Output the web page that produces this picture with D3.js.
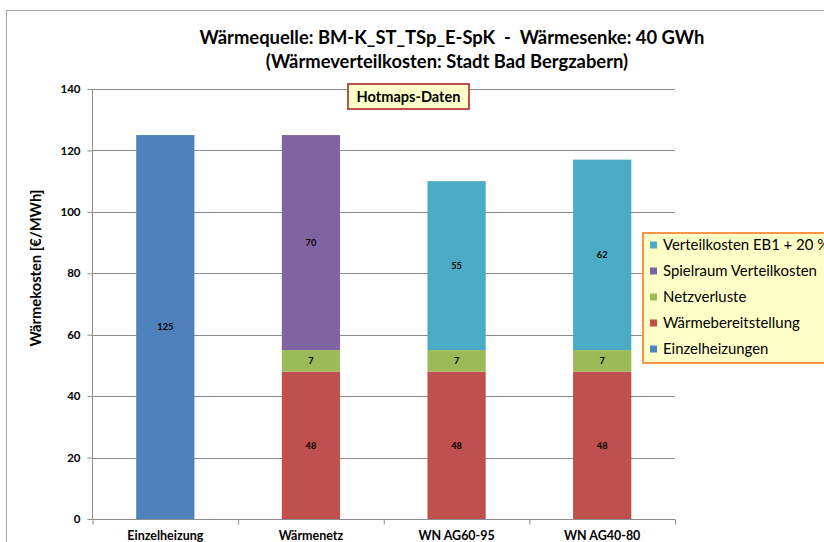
<!DOCTYPE html>
<html><head><meta charset="utf-8">
<script src="https://cdn.jsdelivr.net/npm/d3@7"></script>
<style>body{margin:0;background:#fff}svg{display:block}</style>
</head><body>
<svg id="chart" width="824" height="542"></svg>
<script>
const categories = ["Einzelheizung", "Wärmenetz", "WN AG60-95", "WN AG40-80"];
const seriesNames = ["Einzelheizungen", "Wärmebereitstellung", "Netzverluste", "Spielraum Verteilkosten", "Verteilkosten EB1 + 20 %"];
const einzelheizungen = [125, 0, 0, 0];
const waermebereitstellung = [0, 48, 48, 48];
const netzverluste = [0, 7, 7, 7];
const spielraum = [0, 70, 0, 0];
const verteilkosten = [0, 0, 55, 62];
const yTicks = [0, 20, 40, 60, 80, 100, 120, 140];
const colors = ["#4F81BD", "#C0504D", "#9BBB59", "#8064A2", "#4BACC6"];

(function () {
const series = [einzelheizungen, waermebereitstellung, netzverluste, spielraum, verteilkosten];
const svg = d3.select("#chart");
const font = "Lato, 'Open Sans', sans-serif";

// size a font so that a sample string reaches a target width
function fitSize(sample, target, bold) {
  const t = svg.append("text").attr("font-family", font).attr("font-size", 20)
    .attr("font-weight", bold ? "bold" : "normal").attr("xml:space", "preserve").text(sample);
  const w = t.node().getComputedTextLength();
  t.remove();
  return 20 * target / w;
}
const fsTitle = fitSize("Wärmequelle: BM-K_ST_TSp_E-SpK  -  Wärmesenke: 40 GWh", 505, true);
const fsYLabel = fitSize("Wärmekosten [€/MWh]", 157, true);
const fsLegend = fitSize("Spielraum Verteilkosten", 154, false);
const fsHot = fitSize("Hotmaps-Daten", 104, true);
const fsX = fitSize("Einzelheizung", 76, true);
const fsTick = fitSize("140", 20, true);
const fsData = fitSize("125", 16, true);

// outer frame
svg.append("rect").attr("x", 6.5).attr("y", 10.5).attr("width", 830).attr("height", 540)
  .attr("fill", "#fff").attr("stroke", "#A6A6A6").attr("stroke-width", 1);

const pL = 92.5, pR = 675, pT = 89, pB = 519;
const x = d3.scaleBand().domain(categories).range([pL, pR]).paddingInner(0.6).paddingOuter(0.3);
const y = d3.scaleLinear().domain([0, 140]).range([pB, pT]);

// gridlines
svg.append("g").selectAll("line").data(yTicks.filter(d => d > 0)).join("line")
  .attr("x1", pL).attr("x2", pR).attr("y1", d => Math.round(y(d)) + 0.5).attr("y2", d => Math.round(y(d)) + 0.5)
  .attr("stroke", "#8C8C8C").attr("stroke-width", 1);

// stacked bars
const table = categories.map((c, i) => {
  const o = {cat: c};
  seriesNames.forEach((s, j) => o[s] = series[j][i]);
  return o;
});
const stack = d3.stack().keys(seriesNames)(table);
const g = svg.append("g");
stack.forEach((layer, j) => {
  layer.forEach((d, i) => {
    const v = d[1] - d[0];
    if (v <= 0) return;
    g.append("rect").attr("x", x(categories[i])).attr("width", x.bandwidth())
      .attr("y", y(d[1])).attr("height", y(d[0]) - y(d[1])).attr("fill", colors[j]);
    g.append("text").attr("x", x(categories[i]) + x.bandwidth() / 2).attr("y", (y(d[0]) + y(d[1])) / 2)
      .attr("dy", "0.35em").attr("text-anchor", "middle").attr("font-family", font)
      .attr("font-weight", "bold").attr("font-size", fsData).attr("fill", "#000").text(v);
  });
});

// y axis
const yAxis = d3.axisLeft(y).tickValues(yTicks).tickSize(5).tickPadding(7).tickFormat(d3.format("d"));
const ya = svg.append("g").attr("transform", `translate(${pL},0)`).call(yAxis);
ya.select(".domain").attr("stroke", "#8C8C8C").attr("d", `M0,${pB}V${pT}`);
ya.selectAll(".tick line").attr("stroke", "#8C8C8C");
ya.selectAll(".tick text").attr("font-family", font).attr("font-weight", "bold").attr("font-size", fsTick).attr("fill", "#000");

// x axis
const step = x.step();
const xa = svg.append("g").attr("transform", `translate(0,${pB + 0.5})`);
xa.append("line").attr("x1", pL).attr("x2", pR).attr("stroke", "#8C8C8C");
xa.selectAll(".tk").data(d3.range(categories.length + 1)).join("line")
  .attr("x1", i => pL + i * step + 0.5).attr("x2", i => pL + i * step + 0.5)
  .attr("y1", 0).attr("y2", 5).attr("stroke", "#8C8C8C");
xa.selectAll("text").data(categories).join("text")
  .attr("x", d => x(d) + x.bandwidth() / 2).attr("y", 20)
  .attr("text-anchor", "middle").attr("font-family", font).attr("font-weight", "bold")
  .attr("font-size", fsX).attr("fill", "#000").text(d => d);

// y label
svg.append("text").attr("transform", "translate(41,268) rotate(-90)").attr("text-anchor", "middle")
  .attr("font-family", font).attr("font-weight", "bold").attr("font-size", fsYLabel).attr("fill", "#000")
  .text("Wärmekosten [€/MWh]");

// title
svg.append("text").attr("x", 452).attr("y", 44).attr("text-anchor", "middle")
  .attr("font-family", font).attr("font-weight", "bold").attr("font-size", fsTitle).attr("fill", "#000")
  .attr("xml:space", "preserve")
  .text("Wärmequelle: BM-K_ST_TSp_E-SpK  -  Wärmesenke: 40 GWh");
svg.append("text").attr("x", 447).attr("y", 68).attr("text-anchor", "middle")
  .attr("font-family", font).attr("font-weight", "bold").attr("font-size", fsTitle).attr("fill", "#000")
  .text("(Wärmeverteilkosten: Stadt Bad Bergzabern)");

// Hotmaps box
svg.append("rect").attr("x", 348).attr("y", 84).attr("width", 121).attr("height", 25)
  .attr("fill", "#FFFFCC").attr("stroke", "#C0504D").attr("stroke-width", 2);
svg.append("text").attr("x", 408.5).attr("y", 96.5).attr("dy", "0.35em").attr("text-anchor", "middle")
  .attr("font-family", font).attr("font-weight", "bold").attr("font-size", fsHot).attr("fill", "#000")
  .text("Hotmaps-Daten");

// legend
const lg = svg.append("g");
lg.append("rect").attr("x", 643).attr("y", 233).attr("width", 200).attr("height", 130)
  .attr("fill", "#FFFFC8").attr("stroke", "#F79646").attr("stroke-width", 2);
const legendOrder = [4, 3, 2, 1, 0];
legendOrder.forEach((j, k) => {
  const cy = 245 + k * 26;
  lg.append("rect").attr("x", 650).attr("y", cy - 3.5).attr("width", 7).attr("height", 7).attr("fill", colors[j]);
  lg.append("text").attr("x", 663).attr("y", cy).attr("dy", "0.35em")
    .attr("font-family", font).attr("font-size", fsLegend).attr("fill", "#000").text(seriesNames[j]);
});
})();
</script>
</body></html>
